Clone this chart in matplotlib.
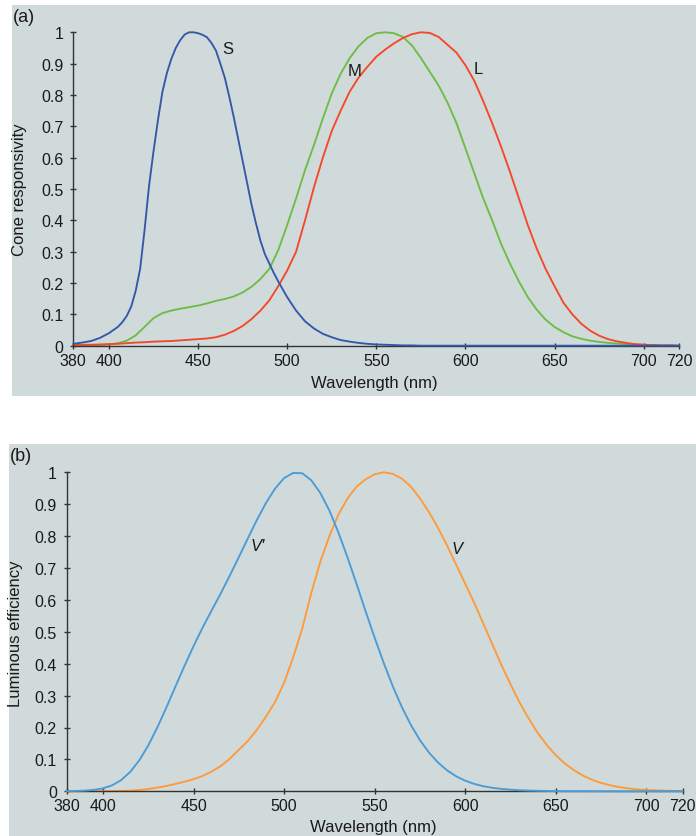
import matplotlib
matplotlib.use("Agg")
import matplotlib.pyplot as plt
from matplotlib.patches import Rectangle

plt.rcParams['font.family'] = ['Liberation Sans', 'DejaVu Sans']

# ---------------- data ----------------
wavelength = list(range(380, 725, 5))

# S cone read at a finer step around its narrow peak
wavelength_S = [380, 385, 390, 395, 400, 405, 407.5, 410, 412.5, 415, 417.5, 420,
                422.5, 425, 427.5, 430, 432.5, 435, 437.5, 440, 442.5, 445, 447.5,
                450, 452.5, 455, 457.5, 460, 462.5, 465, 467.5, 470, 472.5, 475,
                477.5, 480, 482.5, 485, 487.5, 490, 492.5, 495, 500, 505, 510, 515,
                520, 525, 530, 535, 540, 545, 550, 555, 560, 565, 570, 575, 600,
                650, 700, 720]
cone_S = [0.006, 0.010, 0.015, 0.025, 0.040, 0.060, 0.075, 0.095, 0.125, 0.175, 0.245, 0.370,
          0.510, 0.620, 0.720, 0.810, 0.870, 0.915, 0.950, 0.975, 0.993, 1.000, 1.000,
          0.997, 0.992, 0.984, 0.966, 0.942, 0.900, 0.855, 0.795, 0.730, 0.660, 0.590,
          0.520, 0.450, 0.390, 0.335, 0.292, 0.262, 0.232, 0.205, 0.155, 0.112, 0.078, 0.055,
          0.038, 0.027, 0.018, 0.013, 0.009, 0.006, 0.004, 0.003, 0.002, 0.001, 0.001, 0.000, 0.000,
          0.000, 0.000, 0.000]

cone_M = [0.000, 0.000, 0.001, 0.002, 0.004, 0.008, 0.016, 0.033, 0.060, 0.088,
          0.104, 0.112, 0.118, 0.123, 0.128, 0.135, 0.143, 0.149, 0.157, 0.170,
          0.188, 0.213, 0.245, 0.305, 0.385, 0.470, 0.560, 0.640, 0.725, 0.805,
          0.868, 0.917, 0.955, 0.982, 0.997, 1.000, 0.997, 0.985, 0.958, 0.918,
          0.874, 0.830, 0.775, 0.710, 0.630, 0.550, 0.470, 0.400, 0.325, 0.262,
          0.205, 0.155, 0.115, 0.083, 0.060, 0.043, 0.030, 0.022, 0.016, 0.012,
          0.009, 0.007, 0.005, 0.004, 0.003, 0.002, 0.001, 0.001, 0.000]

cone_L = [0.002, 0.003, 0.003, 0.004, 0.005, 0.006, 0.008, 0.010, 0.011, 0.013,
          0.014, 0.015, 0.017, 0.019, 0.021, 0.023, 0.027, 0.035, 0.047, 0.063,
          0.085, 0.112, 0.145, 0.190, 0.240, 0.300, 0.400, 0.505, 0.600, 0.685,
          0.750, 0.810, 0.855, 0.890, 0.922, 0.945, 0.965, 0.982, 0.994, 1.000,
          0.998, 0.985, 0.960, 0.935, 0.895, 0.845, 0.780, 0.710, 0.635, 0.555,
          0.470, 0.385, 0.310, 0.245, 0.190, 0.137, 0.100, 0.070, 0.048, 0.032,
          0.021, 0.014, 0.009, 0.005, 0.003, 0.002, 0.001, 0.001, 0.000]

lum_Vprime = [0.0006, 0.0011, 0.0022, 0.0045, 0.0093, 0.0185, 0.0348, 0.0604, 0.0966, 0.1436,
              0.1998, 0.2625, 0.3281, 0.3931, 0.4550, 0.5130, 0.5670, 0.6200, 0.6760, 0.7340,
              0.7930, 0.8510, 0.9040, 0.9490, 0.9820, 0.9980, 0.9970, 0.9750, 0.9350, 0.8800,
              0.8110, 0.7330, 0.6500, 0.5640, 0.4810, 0.4020, 0.3288, 0.2639, 0.2076, 0.1602,
              0.1212, 0.0899, 0.0655, 0.0469, 0.0332, 0.0231, 0.0159, 0.0109, 0.0074, 0.0050,
              0.0033, 0.0022, 0.0015, 0.0010, 0.0007, 0.0005, 0.0003, 0.0002, 0.0001, 0.0001,
              0.0001, 0.0000, 0.0000, 0.0000, 0.0000, 0.0000, 0.0000, 0.0000, 0.0000]

lum_V = [0.0000, 0.0001, 0.0001, 0.0002, 0.0004, 0.0007, 0.0012, 0.0022, 0.0040, 0.0073,
         0.0116, 0.0168, 0.0230, 0.0300, 0.0380, 0.0480, 0.0620, 0.0790, 0.1020, 0.1300,
         0.1580, 0.1930, 0.2340, 0.2800, 0.3400, 0.4200, 0.5100, 0.6220, 0.7200, 0.8000,
         0.8680, 0.9180, 0.9550, 0.9780, 0.9940, 1.0000, 0.9950, 0.9800, 0.9550, 0.9180,
         0.8750, 0.8250, 0.7700, 0.7100, 0.6500, 0.5900, 0.5250, 0.4600, 0.3950, 0.3350,
         0.2780, 0.2280, 0.1830, 0.1450, 0.1130, 0.0870, 0.0660, 0.0490, 0.0360, 0.0260,
         0.0190, 0.0130, 0.0090, 0.0060, 0.0040, 0.0030, 0.0020, 0.0010, 0.0010]

x_ticks = [380, 400, 450, 500, 550, 600, 650, 700, 720]
y_ticks = [0, 0.1, 0.2, 0.3, 0.4, 0.5, 0.6, 0.7, 0.8, 0.9, 1]
y_tick_labels = ['0', '0.1', '0.2', '0.3', '0.4', '0.5', '0.6', '0.7', '0.8', '0.9', '1']

# ---------------- styles ----------------
BG = '#d0dada'
AX = '#333333'
TXT = '#1a1a1a'
W, H = 696, 837

fig = plt.figure(figsize=(W / 100, H / 100), dpi=100)
fig.patch.set_facecolor('white')

def px_rect(x0, y0, x1, y1):
    return [x0 / W, 1 - y1 / H, (x1 - x0) / W, (y1 - y0) / H]

for (x0, y0, x1, y1) in [(12, 6, 696, 397), (9, 445, 696, 837)]:
    r = Rectangle((x0 / W, 1 - y1 / H), (x1 - x0) / W, (y1 - y0) / H,
                  transform=fig.transFigure, facecolor=BG, edgecolor='none', zorder=0)
    fig.add_artist(r)

def style_axes(ax):
    ax.set_facecolor('none')
    ax.set_xlim(380, 720)
    ax.set_ylim(0, 1)
    for s in ['top', 'right']:
        ax.spines[s].set_visible(False)
    for s in ['left', 'bottom']:
        ax.spines[s].set_color(AX)
        ax.spines[s].set_linewidth(1.0)
    ax.set_xticks(x_ticks)
    ax.set_xticklabels([str(t) for t in x_ticks])
    ax.set_yticks(y_ticks)
    ax.set_yticklabels(y_tick_labels)
    ax.tick_params(axis='both', direction='inout', length=5, width=1.0,
                   color=AX, labelcolor=TXT, labelsize=11.5)
    ax.tick_params(axis='x', pad=2.5)
    ax.tick_params(axis='y', pad=4.5)

line_kw = dict(lw=1.35, clip_on=False, solid_joinstyle='round', solid_capstyle='round')

# panel (a)
axA = fig.add_axes(px_rect(73.3, 33.3, 679.3, 346.7))
style_axes(axA)
axA.plot(wavelength_S, cone_S, color='#3457a8', zorder=3, **line_kw)
axA.plot(wavelength, cone_M, color='#6cbd45', zorder=2, **line_kw)
axA.plot(wavelength, cone_L, color='#f5472a', zorder=2, **line_kw)
axA.text(466.8, 0.948, 'S', fontsize=12, color=TXT, ha='center', va='center')
axA.text(538.0, 0.879, 'M', fontsize=12, color=TXT, ha='center', va='center')
axA.text(607.2, 0.886, 'L', fontsize=12, color=TXT, ha='center', va='center')
fig.text(374.5 / W, 1 - 384 / H, 'Wavelength (nm)', fontsize=12, color=TXT,
         ha='center', va='center')
fig.text(20 / W, 1 - 190 / H, 'Cone responsivity', fontsize=12, color=TXT,
         ha='center', va='center', rotation=90)
fig.text(24 / W, 1 - 17 / H, '(a)', fontsize=13, color=TXT, ha='center', va='center')

# panel (b)
axB = fig.add_axes(px_rect(66.7, 473.3, 682.7, 792.3))
style_axes(axB)
axB.plot(wavelength, lum_Vprime, color='#4a9bd6', zorder=3, **line_kw)
axB.plot(wavelength, lum_V, color='#ff9a3c', zorder=2, **line_kw)
axB.text(485.2, 0.772, "V'", fontsize=12, color=TXT, ha='center', va='center',
         style='italic')
axB.text(595.6, 0.762, 'V', fontsize=12, color=TXT, ha='center', va='center',
         style='italic')
fig.text(373.5 / W, 1 - 828 / H, 'Wavelength (nm)', fontsize=12, color=TXT,
         ha='center', va='center')
fig.text(16 / W, 1 - 634 / H, 'Luminous efficiency', fontsize=12, color=TXT,
         ha='center', va='center', rotation=90)
fig.text(21 / W, 1 - 457 / H, '(b)', fontsize=13, color=TXT, ha='center', va='center')

fig.savefig('out.png', dpi=100, facecolor='white')
